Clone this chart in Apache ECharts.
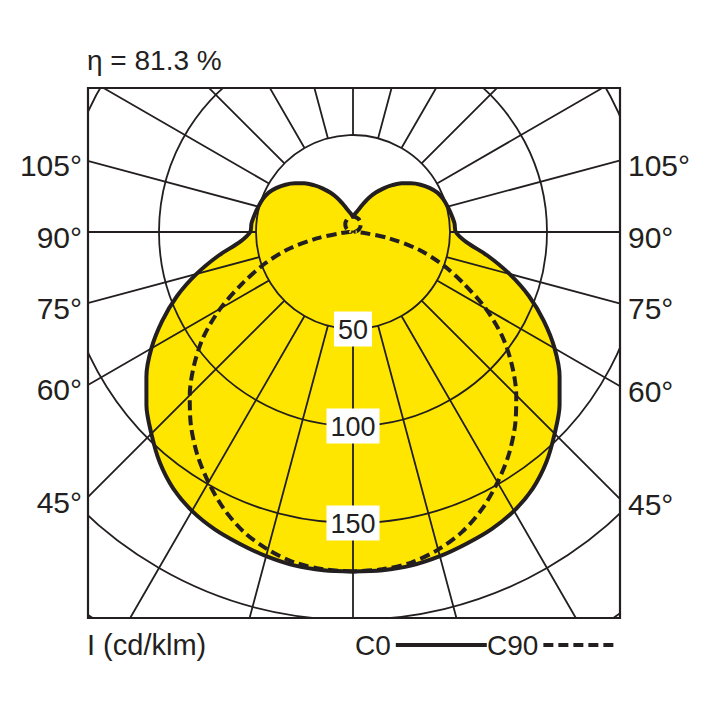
<!DOCTYPE html>
<html>
<head>
<meta charset="utf-8">
<script src="https://cdn.jsdelivr.net/npm/echarts@6/dist/echarts.min.js"></script>
<style>html,body{margin:0;padding:0;background:#fff}#c{width:708px;height:708px}</style>
</head>
<body>
<div id="c"></div>
<script>
// ---- data (angle from nadir in degrees, intensity in cd/klm) ----
const angles = [0,5,10,15,20,25,30,35,40,45,50,55,60,65,70,75,80,85,90,
                95,100,105,110,115,120,125,130,135,140,145,150,155,160,165,170,175,180];
const c0  = [175,175,174.5,173,171,169,166,161.5,155,147,139,130,120,108.5,96.5,83.5,70.5,58.5,53,
             52.5,51.5,50.5,49.5,48,45.5,42.5,39,35.5,31.5,27.5,23.5,19.5,15.5,12.4,10.5,9.1,8];
const c90 = [175,174.5,173,169.5,164.5,157.5,149,140,130,119,107,94,79,63,49,35,19,6,2,
             1,1.5,2,2.7,3.4,4,4.6,5.1,5.6,6.1,6.5,6.8,7.2,7.4,7.6,7.8,7.9,7.9];
const radiusTickLabels = [50, 100, 150];
const angleTickLabels = [45, 60, 75, 90, 105];
const seriesNames = ['C0', 'C90'];
const titleText = 'η = 81.3 %';
const unitText = 'I (cd/klm)';

// ---- layout / style ----
const FONT = "'Liberation Sans', Arial, sans-serif";
const CX = 353, CY = 232;
const BOX = {l: 88, t: 88, r: 620, b: 618};
const PX_PER_UNIT = 1.94, R_MAX = 240, R_GRID_INNER = 50;
const INK = '#231f20', YELLOW = '#ffe600';

// closed curve: left half (0..180) then mirrored right half (185..360)
function fullCurve(vals) {
  const pts = angles.map((a, i) => [vals[i], a]);
  for (let i = angles.length - 2; i >= 0; i--) pts.push([vals[i], 360 - angles[i]]);
  return pts;
}

const chart = echarts.init(document.getElementById('c'), null, {renderer: 'svg'});

const graphics = [
  {type: 'rect', z: 100, silent: true, shape: {x: 0, y: 0, width: 708, height: BOX.t}, style: {fill: '#fff'}},
  {type: 'rect', z: 100, silent: true, shape: {x: 0, y: BOX.b, width: 708, height: 708 - BOX.b}, style: {fill: '#fff'}},
  {type: 'rect', z: 100, silent: true, shape: {x: 0, y: BOX.t, width: BOX.l, height: BOX.b - BOX.t}, style: {fill: '#fff'}},
  {type: 'rect', z: 100, silent: true, shape: {x: BOX.r, y: BOX.t, width: 708 - BOX.r, height: BOX.b - BOX.t}, style: {fill: '#fff'}},
  {type: 'rect', z: 101, silent: true, shape: {x: BOX.l, y: BOX.t, width: BOX.r - BOX.l, height: BOX.b - BOX.t},
   style: {fill: 'none', stroke: INK, lineWidth: 2.2}},
  {type: 'text', z: 102, x: BOX.l - 1, y: 645,
   style: {text: unitText, fontFamily: FONT, fontSize: 29, fill: INK, align: 'left', verticalAlign: 'middle'}}
];
angleTickLabels.forEach(a => {
  const t = Math.tan(a * Math.PI / 180);
  const yl = CY + (CX - BOX.l) / t;
  const yr = CY + (BOX.r - CX) / t;
  graphics.push({type: 'text', z: 102, x: BOX.l - 6, y: yl + 5,
    style: {text: a + '°', fontFamily: FONT, fontSize: 30, fill: INK, align: 'right', verticalAlign: 'middle'}});
  graphics.push({type: 'text', z: 102, x: BOX.r + 8, y: yr + 5,
    style: {text: a + '°', fontFamily: FONT, fontSize: 30, fill: INK, align: 'left', verticalAlign: 'middle'}});
});

const legendCommon = {
  top: 631, padding: 0, align: 'right', itemHeight: 20, z: 200, selectedMode: false,
  textStyle: {fontFamily: FONT, fontSize: 28, color: INK},
  itemStyle: {opacity: 0}, lineStyle: {width: 4}
};
const option = {
  animation: false,
  backgroundColor: '#fff',
  title: {text: titleText, left: 87, top: 46, padding: 0, z: 200,
          textStyle: {fontFamily: FONT, fontSize: 28, fontWeight: 'normal', color: INK}},
  legend: [
    Object.assign({data: [seriesNames[0]], left: 355, itemWidth: 91}, legendCommon),
    Object.assign({data: [seriesNames[1]], left: 487, itemWidth: 75}, legendCommon)
  ],
  polar: [
    {center: [CX, CY], radius: R_MAX * PX_PER_UNIT},
    {center: [CX, CY], radius: [R_GRID_INNER * PX_PER_UNIT, R_MAX * PX_PER_UNIT]}
  ],
  angleAxis: [
    {polarIndex: 0, type: 'value', min: 0, max: 360, interval: 15, startAngle: -90, clockwise: true, z: 5,
     axisLine: {show: false}, axisTick: {show: false}, axisLabel: {show: false}, splitLine: {show: false}},
    {polarIndex: 1, type: 'value', min: 0, max: 360, interval: 15, startAngle: -90, clockwise: true, z: 5,
     axisLine: {show: false}, axisTick: {show: false}, axisLabel: {show: false},
     splitLine: {show: true, lineStyle: {color: INK, width: 1.8}}}
  ],
  radiusAxis: [
    {polarIndex: 0, type: 'value', min: 0, max: R_MAX, interval: 50, z: 6,
     axisLine: {show: false}, axisTick: {show: false},
     axisLabel: {
       show: true, margin: 0, align: 'center', verticalAlign: 'middle', rotate: 0,
       formatter: v => radiusTickLabels.includes(v) ? '{b|' + v + '}' : '',
       rich: {b: {fontFamily: FONT, fontSize: 27, color: INK, backgroundColor: '#fff', padding: [5, 4, 3, 4]}}
     },
     splitLine: {show: true, lineStyle: {color: INK, width: 1.8}}},
    {polarIndex: 1, type: 'value', min: 0, max: R_MAX, show: false,
     axisLine: {show: false}, axisTick: {show: false}, axisLabel: {show: false}, splitLine: {show: false}}
  ],
  series: [
    {name: 'C0 area', type: 'line', coordinateSystem: 'polar', polarIndex: 0, data: fullCurve(c0), smooth: 0.3,
     symbol: 'none', silent: true, z: 1, lineStyle: {width: 0}, areaStyle: {color: YELLOW, opacity: 1}},
    {name: seriesNames[0], type: 'line', coordinateSystem: 'polar', polarIndex: 0, data: fullCurve(c0), smooth: 0.3,
     symbol: 'none', z: 10, itemStyle: {color: INK}, lineStyle: {color: INK, width: 4}},
    {name: seriesNames[1], type: 'line', coordinateSystem: 'polar', polarIndex: 0, data: fullCurve(c90), smooth: 0.3,
     symbol: 'none', z: 10, itemStyle: {color: INK}, lineStyle: {color: INK, width: 4, type: [10, 5]}}
  ],
  graphic: {elements: graphics}
};
chart.setOption(option);
</script>
</body>
</html>
